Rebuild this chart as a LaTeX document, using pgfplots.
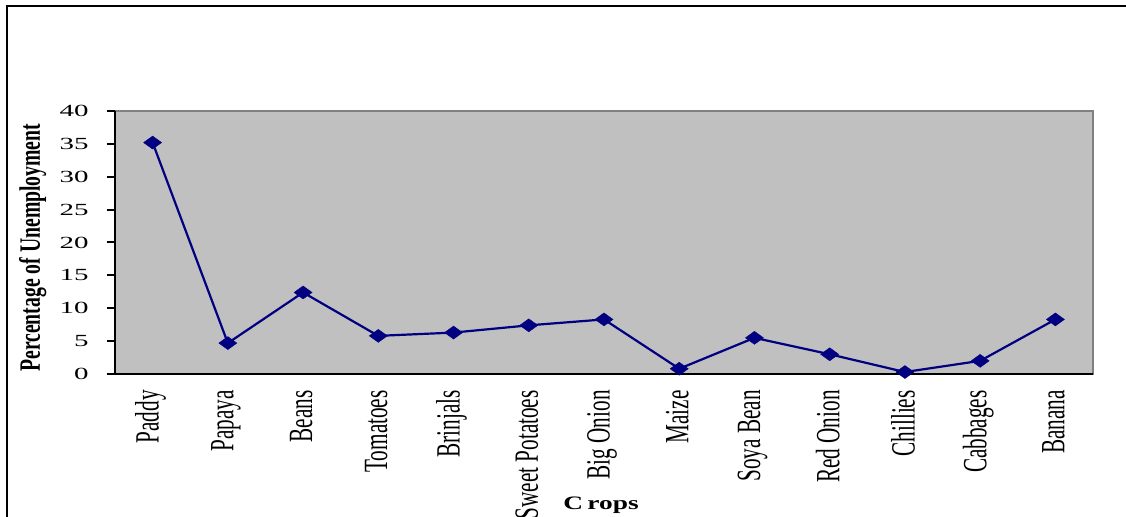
\documentclass[border=0pt]{standalone}
\usepackage{fontspec}
\setmainfont{Liberation Serif}
\usepackage{graphicx}
\usepackage{pgfplots}
\pgfplotsset{compat=1.18}

\definecolor{plotgray}{HTML}{C0C0C0}
\definecolor{edgegray}{HTML}{808080}
\definecolor{navyline}{HTML}{000080}

% category labels are drawn tall (wide letters once rotated)
\newcommand\cat[1]{\scalebox{1}[1.6]{#1}}

\begin{document}
\begin{tikzpicture}
\useasboundingbox (0pt,0pt) rectangle (563pt,-258.5pt);
% outer frame, running past the right and bottom edges
\draw[black, line width=1pt] (3.5pt,-300pt) -- (3.5pt,-3pt) -- (620pt,-3pt);

\begin{axis}[
  at={(57.5pt,-187pt)}, anchor=south west,
  scale only axis,
  width=489pt, height=131.5pt,
  xmin=-0.5, xmax=12.5,
  ymin=0, ymax=40,
  axis lines*=left,
  axis line style={-, black, line width=1pt},
  axis background/.style={fill=plotgray, draw=edgegray, line width=0.8pt},
  ytick={0,5,...,40},
  xtick={0,...,12},
  xticklabels={\cat{Paddy},\cat{Papaya},\cat{Beans},\cat{Tomatoes},\cat{Brinjals},\cat{Sweet Potatoes},\cat{Big Onion},\cat{Maize},\cat{Soya Bean},\cat{Red Onion},\cat{Chillies},\cat{Cabbages},\cat{Banana}},
  major x tick style={draw=none},
  extra x ticks={-0.5,0.5,...,12.5},
  extra x tick labels={},
  extra x tick style={tick style={black, line width=1pt}, major tick length=3pt},
  tick align=outside,
  major tick length=4pt,
  y tick style={black, line width=1pt},
  yticklabel={\scalebox{1.7}[1]{\pgfmathprintnumber[assume math mode=true]{\tick}}},
  yticklabel style={font=\fontsize{8.5}{10}\selectfont, anchor=east, inner sep=0pt, xshift=-9pt},
  xticklabel style={font=\fontsize{10.6}{12}\selectfont, yshift=-4pt, xshift=-1pt, rotate=90, anchor=east, inner sep=0pt},
  ylabel={\scalebox{1}[1.5]{\bfseries Percentage of Unemployment}},
  ylabel style={font=\fontsize{9.85}{11}\selectfont, at={(axis description cs:-0.084,0.48)}, anchor=center, rotate=0},
  xlabel={\scalebox{1.44}[1]{\bfseries C\kern1.5pt rops}},
  xlabel style={font=\fontsize{9.5}{11}\selectfont, at={(axis description cs:0.497,-0.5)}, anchor=center},
  clip=false,
]
\addplot[navyline, line width=1.1pt, mark=diamond*,
  mark size=3.25pt, mark options={xscale=1.85, fill=navyline, draw=navyline, line width=0.2pt}]
  coordinates {
  (0,35.2) (1,4.7) (2,12.4) (3,5.8) (4,6.3) (5,7.4) (6,8.3)
  (7,0.8) (8,5.5) (9,3.0) (10,0.3) (11,2.0) (12,8.3)
  };
\end{axis}
\end{tikzpicture}
\end{document}
